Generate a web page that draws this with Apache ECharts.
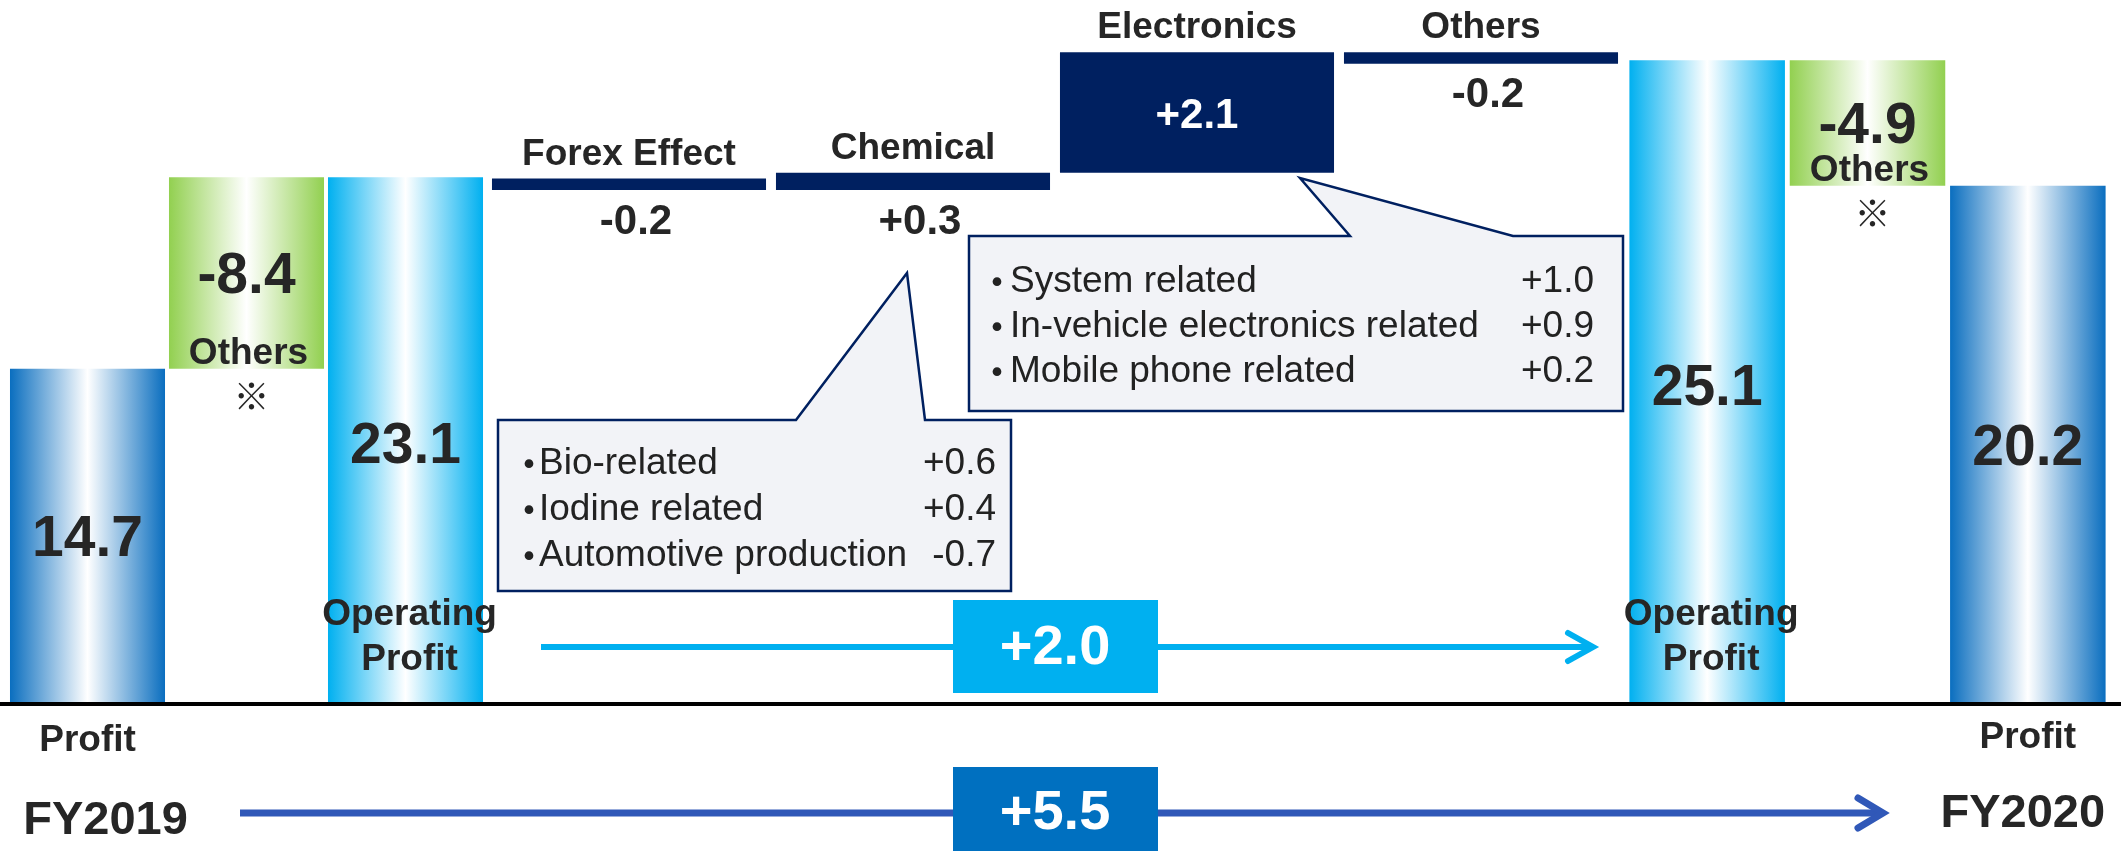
<!DOCTYPE html>
<html>
<head>
<meta charset="utf-8">
<script src="https://cdn.jsdelivr.net/npm/echarts@6/dist/echarts.min.js"></script>
<style>
html, body { margin: 0; padding: 0; background: #fff; }
#main { width: 2121px; height: 851px; }
</style>
</head>
<body>
<div id="main"></div>
<script>
// 利益の増減要因 FY2019 -> FY2020
var fyLabels = ['FY2019', 'FY2020'];
var leftCats = ['Profit', 'Others', 'Operating Profit'];
var rightCats = ['Operating Profit', 'Others', 'Profit'];
var profitValues = [14.7, 20.2];
var opProfitValues = [23.1, 25.1];
var othersValues = [-8.4, -4.9];
var bridgeNames = ['Forex Effect', 'Chemical', 'Electronics', 'Others'];
var bridgeValues = [-0.2, 0.3, 2.1, -0.2];
var chemicalItems = ['Bio-related', 'Iodine related', 'Automotive production'];
var chemicalValues = [0.6, 0.4, -0.7];
var electronicsItems = ['System related', 'In-vehicle electronics related', 'Mobile phone related'];
var electronicsValues = [1.0, 0.9, 0.2];

var FONT = "'Liberation Sans', Arial, Helvetica, sans-serif";
var CJK = "'Noto Sans CJK JP', sans-serif";
var INK = '#262626';

function fmt(v) {
    return (v > 0 ? '+' : '') + v.toFixed(1);
}

function grad(edge) {
    return new echarts.graphic.LinearGradient(0, 0, 1, 0, [
        { offset: 0, color: edge },
        { offset: 0.5, color: '#ffffff' },
        { offset: 1, color: edge }
    ]);
}
var fills = {
    profit: grad('#0a6ebf'),
    op: grad('#00b0f0'),
    others: grad('#92d050'),
    bridge: '#002060'
};

function txt(s, x, y, size, o) {
    o = o || {};
    var al = o.align || 'center';
    return {
        type: 'text', x: x, y: y, z2: 10,
        style: {
            text: s, fontSize: size, fontWeight: o.weight || 'bold',
            fontFamily: o.family || FONT, fill: o.color || INK,
            align: al, textAlign: al, verticalAlign: 'middle', textVerticalAlign: 'middle',
            lineHeight: o.lineHeight
        }
    };
}

// 左右のグループ（利益・その他・営業利益）
var leftItems = [
    { kind: 'profit', lo: 0, hi: profitValues[0], label: profitValues[0].toFixed(1), name: leftCats[0] },
    { kind: 'others', lo: profitValues[0], hi: profitValues[0] - othersValues[0], label: fmt(othersValues[0]), name: leftCats[1] },
    { kind: 'op', lo: 0, hi: opProfitValues[0], label: opProfitValues[0].toFixed(1), name: leftCats[2] }
];
var rightItems = [
    { kind: 'op', lo: 0, hi: opProfitValues[1], label: opProfitValues[1].toFixed(1), name: rightCats[0] },
    { kind: 'others', lo: profitValues[1], hi: profitValues[1] - othersValues[1], label: fmt(othersValues[1]), name: rightCats[1] },
    { kind: 'profit', lo: 0, hi: profitValues[1], label: profitValues[1].toFixed(1), name: rightCats[2] }
];
// 営業利益の増減（ブリッジ）
var bridgeItems = [];
var running = opProfitValues[0];
for (var i = 0; i < bridgeValues.length; i++) {
    var next = running + bridgeValues[i];
    bridgeItems.push({
        kind: 'bridge', lo: Math.min(running, next), hi: Math.max(running, next),
        label: fmt(bridgeValues[i]), name: bridgeNames[i]
    });
    running = next;
}

function toData(items) {
    return items.map(function (d, i) { return [i, d.lo, d.hi]; });
}

function renderBar(items, ratio) {
    return function (params, api) {
        var d = items[params.dataIndex];
        var pTop = api.coord([api.value(0), api.value(2)]);
        var pBot = api.coord([api.value(0), api.value(1)]);
        var w = api.size([1, 0])[0] * ratio;
        var cx = pTop[0], top = pTop[1], bot = pBot[1], cy = (top + bot) / 2;
        var kids = [{
            type: 'rect',
            shape: { x: cx - w / 2, y: top, width: w, height: bot - top },
            style: { fill: fills[d.kind] }
        }];
        if (d.kind === 'profit') {
            kids.push(txt(d.label, cx, cy + 4, 57));
        } else if (d.kind === 'op') {
            kids.push(txt(d.label, cx, cy + 7, 57));
            kids.push(txt(d.name.replace(' ', '\n'), cx + 4, bot - 67, 37, { lineHeight: 45 }));
        } else if (d.kind === 'others') {
            kids.push(txt(d.label, cx, cy + 4, 57));
            kids.push(txt(d.name, cx + 2, bot - 15, 37));
            kids.push(txt('※', cx + 5, bot + 27, 36, { family: CJK }));
        } else {
            kids.push(txt(d.name, cx, top - 24, 37));
            if (bot - top > 60) {
                kids.push(txt(d.label, cx, cy + 4, 42, { color: '#fff' }));
            } else {
                kids.push(txt(d.label, cx + 7, bot + 32, 42));
            }
        }
        return { type: 'group', children: kids };
    };
}

function axisRich(padding, fyHeight) {
    return {
        p: { fontSize: 37, fontWeight: 'bold', fontFamily: FONT, color: INK, lineHeight: 40 },
        fy: { fontSize: 47, fontWeight: 'bold', fontFamily: FONT, color: INK, lineHeight: fyHeight, padding: padding }
    };
}

// 吹き出し
function callout(points, items, values, bulletX, textX, valueX, rowY, gap) {
    var els = [{
        type: 'polygon',
        shape: { points: points },
        style: { fill: '#f2f3f7', stroke: '#002060', lineWidth: 2.5 }
    }];
    for (var k = 0; k < items.length; k++) {
        var y = rowY + k * gap;
        els.push(txt('・', bulletX, y + 2, 34, { family: CJK, color: '#222' }));
        els.push(txt(items[k], textX, y + 2, 37, { weight: 'normal', align: 'left', color: '#222' }));
        els.push(txt(fmt(values[k]), valueX, y + 2, 37, { weight: 'normal', align: 'right', color: '#222' }));
    }
    els.forEach(function (e) { e.z = 5; });
    return els;
}

var graphics = []
    .concat(callout([[498, 420], [796, 420], [907, 273], [925, 420], [1011, 420], [1011, 591], [498, 591]],
        chemicalItems, chemicalValues, 529, 539, 996, 462, 46))
    .concat(callout([[969, 236], [1350, 236], [1300, 178], [1513, 236], [1623, 236], [1623, 411], [969, 411]],
        electronicsItems, electronicsValues, 997, 1010, 1594, 280, 45))
    .concat([
        // 営業利益 増減の矢印
        { type: 'polyline', z: 4, shape: { points: [[541, 647], [1590, 647]] }, style: { stroke: '#00b0f0', lineWidth: 6, fill: null } },
        { type: 'polyline', z: 4, shape: { points: [[1568, 633], [1593, 647], [1568, 661]] }, style: { stroke: '#00b0f0', lineWidth: 6, lineCap: 'round', fill: null } },
        { type: 'rect', z: 5, shape: { x: 953, y: 600, width: 205, height: 93 }, style: { fill: '#00b0f0' } },
        txt(fmt(opProfitValues[1] - opProfitValues[0]), 1055, 649, 56, { color: '#fff' }),
        // 利益 増減の矢印
        { type: 'polyline', z: 4, shape: { points: [[240, 813], [1880, 813]] }, style: { stroke: '#3058b8', lineWidth: 7, fill: null } },
        { type: 'polyline', z: 4, shape: { points: [[1858, 798], [1883, 813], [1858, 828]] }, style: { stroke: '#3058b8', lineWidth: 7, lineCap: 'round', fill: null } },
        { type: 'rect', z: 5, shape: { x: 953, y: 767, width: 205, height: 84 }, style: { fill: '#0070c0' } },
        txt(fmt(profitValues[1] - profitValues[0]), 1055, 814, 56, { color: '#fff' })
    ]);
graphics.forEach(function (e) { if (e.type === 'text' && e.z === undefined) e.z = 6; });

var myChart = echarts.init(document.getElementById('main'));
myChart.setOption({
    backgroundColor: '#fff',
    animation: false,
    grid: [
        { left: 8, width: 477, top: 4, bottom: 147, outerBoundsMode: 'none' },
        { left: 487, width: 1136, top: 4, bottom: 147, outerBoundsMode: 'none' },
        { left: 1627, width: 481, top: 4, bottom: 147, outerBoundsMode: 'none' },
        { left: 0, right: 0, top: 4, bottom: 147, outerBoundsMode: 'none' }
    ],
    xAxis: [
        {
            gridIndex: 0, type: 'category', data: leftCats,
            axisLine: { show: false }, axisTick: { show: false },
            axisLabel: {
                interval: 0, margin: 17,
                formatter: function (v, i) { return i === 0 ? '{p|' + v + '}\n{fy|' + fyLabels[0] + '}' : ''; },
                rich: axisRich([0, 0, 0, 36], 120)
            }
        },
        { gridIndex: 1, type: 'category', data: bridgeNames, show: false },
        {
            gridIndex: 2, type: 'category', data: rightCats,
            axisLine: { show: false }, axisTick: { show: false },
            axisLabel: {
                interval: 0, margin: 14,
                formatter: function (v, i) { return i === 2 ? '{p|' + v + '}\n{fy|' + fyLabels[1] + '}' : ''; },
                rich: axisRich([0, 10, 0, 0], 112)
            }
        },
        {
            gridIndex: 3, type: 'category', data: [''], z: 10,
            axisLine: { lineStyle: { color: '#000', width: 4 } },
            axisTick: { show: false }, axisLabel: { show: false }
        }
    ],
    yAxis: [
        { gridIndex: 0, type: 'value', min: 0, max: 30.7, show: false },
        { gridIndex: 1, type: 'value', min: 13.95, max: 26.14, show: false },
        { gridIndex: 2, type: 'value', min: 0, max: 27.29, show: false },
        { gridIndex: 3, type: 'value', min: 0, max: 1, show: false }
    ],
    series: [
        {
            type: 'custom', name: fyLabels[0], xAxisIndex: 0, yAxisIndex: 0,
            renderItem: renderBar(leftItems, 0.975), encode: { x: 0, y: [1, 2] },
            data: toData(leftItems)
        },
        {
            type: 'custom', name: 'bridge', xAxisIndex: 1, yAxisIndex: 1,
            renderItem: renderBar(bridgeItems, 0.965), encode: { x: 0, y: [1, 2] },
            data: toData(bridgeItems)
        },
        {
            type: 'custom', name: fyLabels[1], xAxisIndex: 2, yAxisIndex: 2,
            renderItem: renderBar(rightItems, 0.97), encode: { x: 0, y: [1, 2] },
            data: toData(rightItems)
        }
    ],
    graphic: graphics
});
</script>
</body>
</html>
